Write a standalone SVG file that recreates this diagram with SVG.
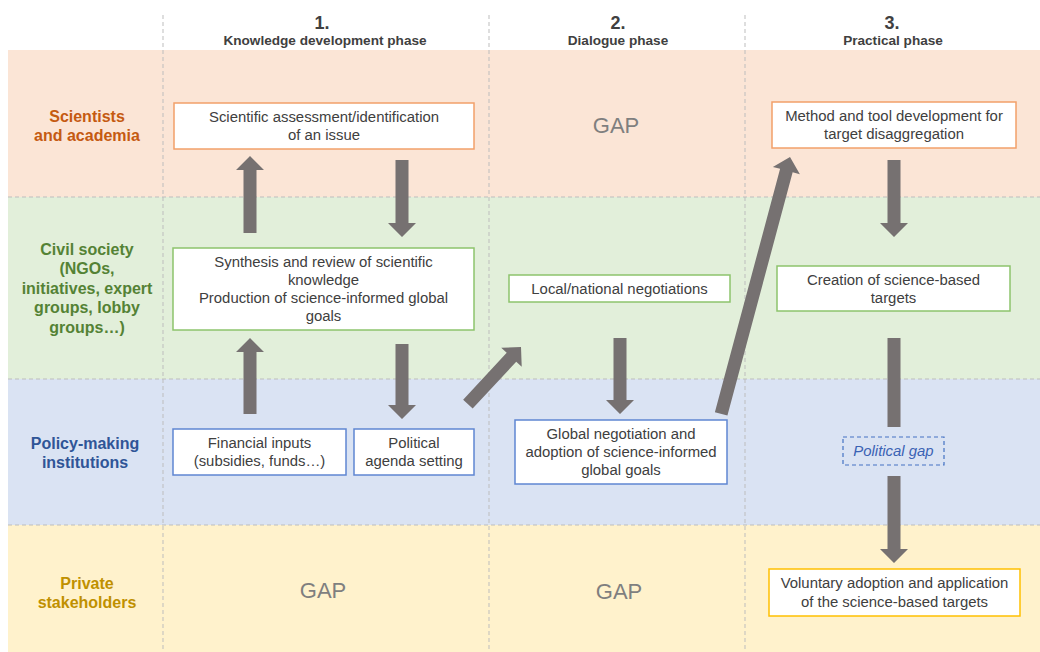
<svg xmlns="http://www.w3.org/2000/svg" width="1040" height="652" viewBox="0 0 1040 652">
<style>
.grid{stroke:#BDBDBD;stroke-width:1;stroke-dasharray:4 3;fill:none}
.hdrn{font-family:"Liberation Sans",Arial,sans-serif;font-weight:bold;font-size:18px;fill:#404040;text-anchor:middle}
.hdr{font-family:"Liberation Sans",Arial,sans-serif;font-weight:bold;font-size:13.6px;fill:#404040;text-anchor:middle}
.row{font-family:"Liberation Sans",Arial,sans-serif;font-weight:bold;font-size:16px;text-anchor:middle}
.t{font-family:"Liberation Sans",Arial,sans-serif;font-size:14.9px;fill:#404040;text-anchor:middle}
.gap{font-family:"Liberation Sans",Arial,sans-serif;font-size:22px;fill:#7F7F7F;text-anchor:middle}
.box{fill:#FFFFFF;stroke-width:1.5}
.o{stroke:#F2A06A}.g{stroke:#8DC46C}.b{stroke:#5F86D2}.y{stroke:#FFC000}
.arr{fill:#767171}
</style>
<rect width="1040" height="652" fill="#FFFFFF"/>
<g id="bands">
<rect x="8" y="50" width="1032" height="147" fill="#FBE5D6"/>
<rect x="8" y="197" width="1032" height="182" fill="#E2EFDA"/>
<rect x="8" y="379" width="1032" height="146" fill="#DAE3F3"/>
<rect x="8" y="525" width="1032" height="127" fill="#FFF2CC"/>
<line class="grid" x1="8" y1="197" x2="1040" y2="197"/>
<line class="grid" x1="8" y1="379" x2="1040" y2="379"/>
<line class="grid" x1="8" y1="525" x2="1040" y2="525"/>
<line class="grid" x1="163" y1="15" x2="163" y2="652"/>
<line class="grid" x1="489" y1="15" x2="489" y2="652"/>
<line class="grid" x1="745" y1="15" x2="745" y2="652"/>
</g>
<g id="headers">
<text class="hdrn" x="322" y="29">1.</text>
<text class="hdr" x="325" y="45">Knowledge development phase</text>
<text class="hdrn" x="618" y="29">2.</text>
<text class="hdr" x="618" y="45">Dialogue phase</text>
<text class="hdrn" x="892" y="29">3.</text>
<text class="hdr" x="893" y="45">Practical phase</text>
</g>
<g id="row-labels">
<text class="row" fill="#C55A11" x="87" y="122">Scientists</text>
<text class="row" fill="#C55A11" x="87" y="141">and academia</text>
<text class="row" fill="#548235" x="87" y="255">Civil society</text>
<text class="row" fill="#548235" x="87" y="274">(NGOs,</text>
<text class="row" fill="#548235" x="87" y="294">initiatives, expert</text>
<text class="row" fill="#548235" x="87" y="313">groups, lobby</text>
<text class="row" fill="#548235" x="87" y="333">groups…)</text>
<text class="row" fill="#2F5597" x="85" y="449">Policy-making</text>
<text class="row" fill="#2F5597" x="85" y="468">institutions</text>
<text class="row" fill="#BF9000" x="87" y="589">Private</text>
<text class="row" fill="#BF9000" x="87" y="608">stakeholders</text>
</g>
<g id="gaps">
<text class="gap" x="616" y="133">GAP</text>
<text class="gap" x="323" y="598">GAP</text>
<text class="gap" x="619" y="599">GAP</text>
</g>
<g id="connectors">
<polygon class="arr" points="243.5,233 243.5,170 236,170 250,156 264,170 256.5,170 256.5,233"/>
<polygon class="arr" points="395.5,160 408.5,160 408.5,223 416,223 402,237 388,223 395.5,223"/>
<polygon class="arr" points="243.5,414 243.5,352 236,352 250,338 264,352 256.5,352 256.5,414"/>
<polygon class="arr" points="395.5,344 408.5,344 408.5,405 416,405 402,419 388,405 395.5,405"/>
<polygon class="arr" points="613.5,338 626.5,338 626.5,400 634,400 620,414 606,400 613.5,400"/>
<polygon class="arr" points="887.5,160 900.5,160 900.5,223 908,223 894,237 880,223 887.5,223"/>
<rect class="arr" x="887.5" y="338" width="13" height="89"/>
<polygon class="arr" points="887.5,476 900.5,476 900.5,549 908,549 894,563 880,549 887.5,549"/>
<polygon class="arr" transform="translate(521,347) rotate(42.9)" points="0,0 14,14 6.5,14 6.5,78 -6.5,78 -6.5,14 -14,14"/>
<polygon class="arr" transform="translate(790,157) rotate(15)" points="0,0 14,14 6.5,14 6.5,266 -6.5,266 -6.5,14 -14,14"/>
</g>
<g id="n-scientific">
<rect class="box o" x="174" y="103" width="300" height="46"/>
<text class="t" x="324" y="122">Scientific assessment/identification</text>
<text class="t" x="324" y="140">of an issue</text>
</g>
<g id="n-method">
<rect class="box o" x="772" y="102" width="244" height="46"/>
<text class="t" x="894" y="121">Method and tool development for</text>
<text class="t" x="894" y="139">target disaggregation</text>
</g>
<g id="n-synthesis">
<rect class="box g" x="173" y="248" width="301" height="82"/>
<text class="t" x="323.5" y="267">Synthesis and review of scientific</text>
<text class="t" x="323.5" y="285">knowledge</text>
<text class="t" x="323.5" y="303">Production of science-informed global</text>
<text class="t" x="323.5" y="321">goals</text>
</g>
<g id="n-local">
<rect class="box g" x="509" y="275" width="221" height="27"/>
<text class="t" x="619.5" y="294">Local/national negotiations</text>
</g>
<g id="n-creation">
<rect class="box g" x="777" y="266" width="233" height="45"/>
<text class="t" x="893.5" y="284.5">Creation of science-based</text>
<text class="t" x="893.5" y="303">targets</text>
</g>
<g id="n-financial">
<rect class="box b" x="173" y="429" width="173" height="46"/>
<text class="t" x="259.5" y="448">Financial inputs</text>
<text class="t" x="259.5" y="466">(subsidies, funds…)</text>
</g>
<g id="n-agenda">
<rect class="box b" x="354" y="429" width="120" height="46"/>
<text class="t" x="414" y="448">Political</text>
<text class="t" x="414" y="466">agenda setting</text>
</g>
<g id="n-global">
<rect class="box b" x="515" y="420" width="212" height="64"/>
<text class="t" x="621" y="439">Global negotiation and</text>
<text class="t" x="621" y="457">adoption of science-informed</text>
<text class="t" x="621" y="475">global goals</text>
</g>
<g id="n-political-gap">
<rect x="843" y="437" width="101" height="28" fill="none" stroke="#4472C4" stroke-width="1.2" stroke-dasharray="4 3"/>
<text class="t" x="893.5" y="456" style="fill:#3A62B4;font-style:italic">Political gap</text>
</g>
<g id="n-voluntary">
<rect class="box y" x="769" y="569" width="251" height="47"/>
<text class="t" x="894.5" y="588">Voluntary adoption and application</text>
<text class="t" x="894.5" y="607">of the science-based targets</text>
</g>
</svg>
